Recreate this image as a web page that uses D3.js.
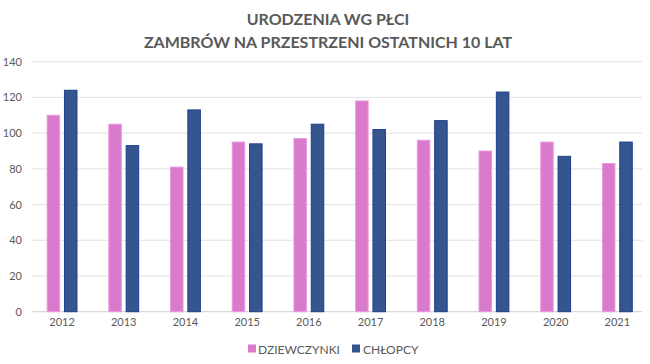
<!DOCTYPE html>
<html><head><meta charset="utf-8">
<script src="https://cdn.jsdelivr.net/npm/d3@7"></script>
<style>body{margin:0;background:#fff}svg{display:block}</style>
</head><body>
<script>
const years = ["2012","2013","2014","2015","2016","2017","2018","2019","2020","2021"];
const seriesNames = ["DZIEWCZYNKI","CHŁOPCY"];
const girls = [110,105,81,95,97,118,96,90,95,83];
const boys = [124,93,113,94,105,102,107,123,87,95];
const yTicks = [0,20,40,60,80,100,120,140];
const titleLines = ["URODZENIA WG PŁCI","ZAMBRÓW NA PRZESTRZENI OSTATNICH 10 LAT"];

const W=650,H=364;
const fills=["#DA7ACD","#35558F"], strokes=["#E99BDF","#1E3F8C"];
const font="Lato, 'Open Sans', sans-serif";
const svg=d3.select("body").append("svg").attr("width",W).attr("height",H);

const x=d3.scaleBand().domain(years).range([31.2,648.2]).paddingInner(0.5).paddingOuter(0.25);
const xs=d3.scaleBand().domain(seriesNames).range([0,x.bandwidth()]).paddingInner(0.22);
const y=d3.scaleLinear().domain([0,140]).range([311.7,61.7]);

// gridlines
svg.append("g").selectAll("line").data(yTicks).join("line")
  .attr("x1",32).attr("x2",642).attr("y1",d=>y(d)).attr("y2",d=>y(d))
  .attr("stroke",d=>d===0?"#d0d0d0":"#e2e2e2").attr("stroke-width",1);

// y axis labels
const ya=svg.append("g").attr("transform","translate(22,0)")
  .call(d3.axisLeft(y).tickValues(yTicks).tickSize(0).tickPadding(0));
ya.select(".domain").remove();
ya.selectAll("text").attr("fill","#595959").style("font-family",font).style("font-size","11px");

// x axis labels
const xa=svg.append("g").attr("transform","translate(0,318)")
  .call(d3.axisBottom(x).tickSize(0).tickPadding(0));
xa.select(".domain").remove();
xa.selectAll("text").attr("fill","#595959").style("font-family",font).style("font-size","11px").attr("dy","0.71em");

// bars
const data=years.map((yr,i)=>({yr,vals:[girls[i],boys[i]]}));
const g=svg.append("g").selectAll("g").data(data).join("g")
  .attr("transform",d=>`translate(${x(d.yr)},0)`);
g.selectAll("rect").data(d=>d.vals.map((v,j)=>({v,j}))).join("rect")
  .attr("x",d=>xs(seriesNames[d.j])+0.5).attr("width",xs.bandwidth()-1)
  .attr("y",d=>y(d.v)).attr("height",d=>y(0)-y(d.v))
  .attr("fill",d=>fills[d.j]).attr("stroke",d=>strokes[d.j]).attr("stroke-width",1);

// title
svg.append("g").selectAll("text").data(titleLines).join("text")
  .attr("x",328).attr("y",(d,i)=>25+i*22.5).attr("text-anchor","middle")
  .attr("fill","#595959").style("font-family",font).style("font-weight","bold").style("font-size","16px")
  .text(d=>d);

// legend
const leg=[{x:248,tx:258},{x:352,tx:363}];
const lg=svg.append("g").selectAll("g").data(seriesNames).join("g");
lg.append("rect").attr("x",(d,i)=>leg[i].x).attr("y",344.5).attr("width",8).attr("height",8)
  .attr("fill",(d,i)=>fills[i]);
lg.append("text").attr("x",(d,i)=>leg[i].tx).attr("y",353.5).attr("fill","#595959")
  .style("font-family",font).style("font-size","12px").text(d=>d);
</script>
</body></html>
